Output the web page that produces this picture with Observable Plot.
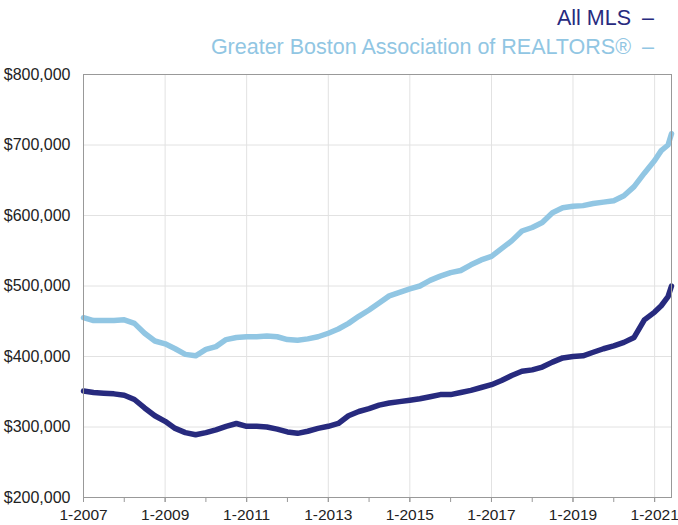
<!DOCTYPE html>
<html><head><meta charset="utf-8">
<script src="https://cdn.jsdelivr.net/npm/d3@7"></script>
<script src="https://cdn.jsdelivr.net/npm/@observablehq/plot@0.6"></script>
<style>
body{margin:0;background:#fff;font-family:"Liberation Sans",Arial,sans-serif;}
#legend{height:60px;position:relative;}
.row{position:absolute;right:24px;font-size:21.5px;white-space:nowrap;line-height:1;}
.row .dash{display:inline-block;margin-left:11px;}
</style></head><body>
<div id="legend"></div><div id="chart"></div>
<script>
const months = [
"2007-01","2007-04","2007-07","2007-10",
"2008-01","2008-04","2008-07","2008-10",
"2009-01","2009-04","2009-07","2009-10",
"2010-01","2010-04","2010-07","2010-10",
"2011-01","2011-04","2011-07","2011-10",
"2012-01","2012-04","2012-07","2012-10",
"2013-01","2013-04","2013-07","2013-10",
"2014-01","2014-04","2014-07","2014-10",
"2015-01","2015-04","2015-07","2015-10",
"2016-01","2016-04","2016-07","2016-10",
"2017-01","2017-04","2017-07","2017-10",
"2018-01","2018-04","2018-07","2018-10",
"2019-01","2019-04","2019-07","2019-10",
"2020-01","2020-04","2020-07","2020-10",
"2021-01","2021-03","2021-05","2021-06"];

const allMLS = [
351000,349000,348000,347000,
345000,339000,327000,316000,
308000,298000,292000,289000,
292000,296000,301000,305000,
301000,301000,300000,297000,
293000,291000,294000,298000,
301000,305000,316000,322000,
326000,331000,334000,336000,
338000,340000,343000,346000,
346000,349000,352000,356000,
360000,366000,373000,379000,
381000,385000,392000,398000,
400000,401000,406000,411000,
415000,420000,427000,452000,
463000,472000,485000,500000];

const gbar = [
455000,451000,451000,451000,
452000,447000,433000,422000,
418000,411000,403000,401000,
410000,414000,424000,427000,
428000,428000,429000,428000,
424000,423000,425000,428000,
433000,439000,447000,457000,
466000,476000,486000,491000,
496000,500000,508000,514000,
519000,522000,530000,537000,
542000,553000,564000,578000,
583000,590000,604000,611000,
613000,614000,617000,619000,
621000,628000,641000,660000,
678000,692000,700000,716000];

const seriesNames = ["All MLS", "Greater Boston Association of REALTORS®"];
const seriesColors = ["#272a7e", "#91c6e3"];
const xLabelTicks = ["2007-01","2009-01","2011-01","2013-01","2015-01","2017-01","2019-01","2021-01"];
const xYearTicks = ["2007-01","2008-01","2009-01","2010-01","2011-01","2012-01","2013-01","2014-01","2015-01","2016-01","2017-01","2018-01","2019-01","2020-01","2021-01"];
const yTicks = [200000,300000,400000,500000,600000,700000,800000];
const xDomain = ["2007-01","2021-06"];

const parse = d3.utcParse("%Y-%m");

// legend
const legend = document.getElementById("legend");
seriesNames.forEach((name, i) => {
  const row = document.createElement("div");
  row.className = "row";
  row.style.top = (i === 0 ? 8 : 37) + "px";
  row.style.color = seriesColors[i];
  const t = document.createElement("span"); t.textContent = name;
  const d = document.createElement("span"); d.className = "dash"; d.textContent = "–";
  row.appendChild(t); row.appendChild(d);
  legend.appendChild(row);
});

const data = [];
months.forEach((m, i) => {
  data.push({date: parse(m), value: gbar[i], series: seriesNames[1]});
});
months.forEach((m, i) => {
  data.push({date: parse(m), value: allMLS[i], series: seriesNames[0]});
});

const chart = Plot.plot({
  width: 678,
  height: 465,
  marginTop: 14,
  marginBottom: 28,
  marginLeft: 83,
  marginRight: 7,
  style: {fontFamily: "Liberation Sans, Arial, sans-serif", fontSize: "15px", color: "#222", background: "#fff"},
  x: {type: "utc", domain: xDomain.map(parse), label: null},
  y: {domain: [200000, 800000], label: null},
  color: {domain: seriesNames, range: seriesColors},
  marks: [
    Plot.gridY(yTicks, {stroke: "#e2e2e2", strokeOpacity: 1}),
    Plot.gridX(xLabelTicks.map(parse), {stroke: "#e2e2e2", strokeOpacity: 1}),
    Plot.axisY(yTicks, {tickSize: 0, tickPadding: 13, fontSize: 16, tickFormat: d => "$" + d3.format(",")(d)}),
    Plot.axisX(xYearTicks.map(parse), {tickSize: 5, stroke: "#999", tickFormat: () => ""}),
    Plot.axisX(xLabelTicks.map(parse), {tickSize: 5, tickPadding: 6, stroke: "#999", fontSize: 15.5, tickFormat: d => "1-" + d.getUTCFullYear()}),
    Plot.lineY(data, {x: "date", y: "value", stroke: "series", z: "series", strokeWidth: 5.5, strokeLinejoin: "round", strokeLinecap: "round"}),
    Plot.frame({stroke: "#999"})
  ]
});
document.getElementById("chart").appendChild(chart);
</script>
</body></html>
